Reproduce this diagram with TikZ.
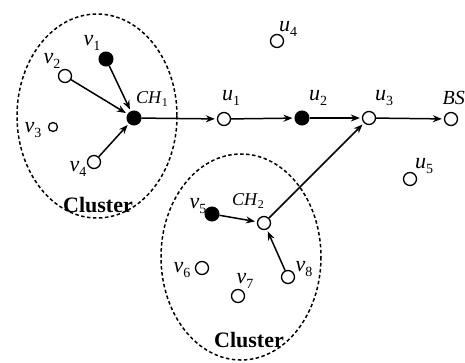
\documentclass[tikz,border=0pt]{standalone}
\usepackage{fontspec}
\setmainfont{Liberation Serif}
\usetikzlibrary{arrows.meta}
\newcommand\lab[2]{\textit{#1}\raisebox{-0.45ex}{\fontsize{14}{15}\selectfont #2}}
\newcommand\labch[2]{\textit{#1}\raisebox{-0.45ex}{\fontsize{12}{13}\selectfont #2}}
\begin{document}
\begin{tikzpicture}[x=1pt,y=-1pt,
  open/.style={circle,draw,line width=1.3pt,minimum size=13pt,inner sep=0pt,fill=white},
  full/.style={circle,draw,fill=black,line width=1pt,minimum size=14pt,inner sep=0pt},
  lbl/.style={font=\fontsize{22}{24}\selectfont,inner sep=0pt},
  lblch/.style={font=\fontsize{18}{20}\selectfont,inner sep=0pt},
  clu/.style={draw,dashed,dash pattern=on 3.5pt off 2.5pt,line width=1.5pt},
  clabel/.style={font=\fontsize{22}{24}\selectfont\bfseries,inner sep=0pt},
  arr/.style={-{Stealth[length=9pt,width=7pt]},line width=1.5pt,shorten >=2pt}]
\useasboundingbox (0,0) rectangle (465,362);
% clusters
\draw[clu] (97,116) ellipse [x radius=80,y radius=102];
\draw[clu] (241,257) ellipse [x radius=80,y radius=103];
\node[clabel] (cl1) at (98,205) {Cluster};
\node[clabel] (cl2) at (249,340) {Cluster};
% nodes
\node[full] (v1) at (106,59) {};
\node[open] (v2) at (65,76) {};
\node[open,minimum size=9pt] (v3) at (53,127) {};
\node[open] (v4) at (94,162) {};
\node[full] (ch1) at (134,118) {};
\node[open] (u1) at (224,119) {};
\node[full] (u2) at (302,118) {};
\node[open] (u3) at (369,118) {};
\node[open] (bs) at (451,119) {};
\node[open] (u4) at (277,41) {};
\node[open] (u5) at (410,179) {};
\node[full] (v5) at (212,214) {};
\node[open] (ch2) at (264,223) {};
\node[open] (v6) at (202,268) {};
\node[open] (v7) at (238,296) {};
\node[open] (v8) at (288,277) {};
% labels
\node[lbl] (lv1) at (92,43) {\lab{v}{1}};
\node[lbl] (lv2) at (52,61) {\lab{v}{2}};
\node[lbl] (lv3) at (33,130) {\lab{v}{3}};
\node[lbl] (lv4) at (78,169) {\lab{v}{4}};
\node[lblch] (lch1) at (152,99) {\labch{CH}{1}};
\node[lbl] (lu1) at (231,98) {\lab{u}{1}};
\node[lbl] (lu2) at (318,98) {\lab{u}{2}};
\node[lbl] (lu3) at (384,98) {\lab{u}{3}};
\node[lbl,font=\fontsize{20}{22}\selectfont,anchor=east] (lbs) at (465,98) {\textit{BS}};
\node[lbl] (lu4) at (288,29) {\lab{u}{4}};
\node[lbl] (lu5) at (424,166) {\lab{u}{5}};
\node[lbl] (lv5) at (198,206) {\lab{v}{5}};
\node[lblch] (lch2) at (248,201) {\labch{CH}{2}};
\node[lbl] (lv6) at (182,270) {\lab{v}{6}};
\node[lbl] (lv7) at (245,281) {\lab{v}{7}};
\node[lbl] (lv8) at (304,269) {\lab{v}{8}};
% connectors
\draw[arr] (v1) -- (ch1);
\draw[arr] (v2) -- (ch1);
\draw[arr] (v4) -- (ch1);
\draw[arr] (ch1) -- (u1);
\draw[arr] (u1) -- (u2);
\draw[arr] (u2) -- (u3);
\draw[arr] (u3) -- (bs);
\draw[arr] (ch2) -- (u3);
\draw[arr] (v5) -- (ch2);
\draw[arr] (v8) -- (ch2);
\end{tikzpicture}
\end{document}
